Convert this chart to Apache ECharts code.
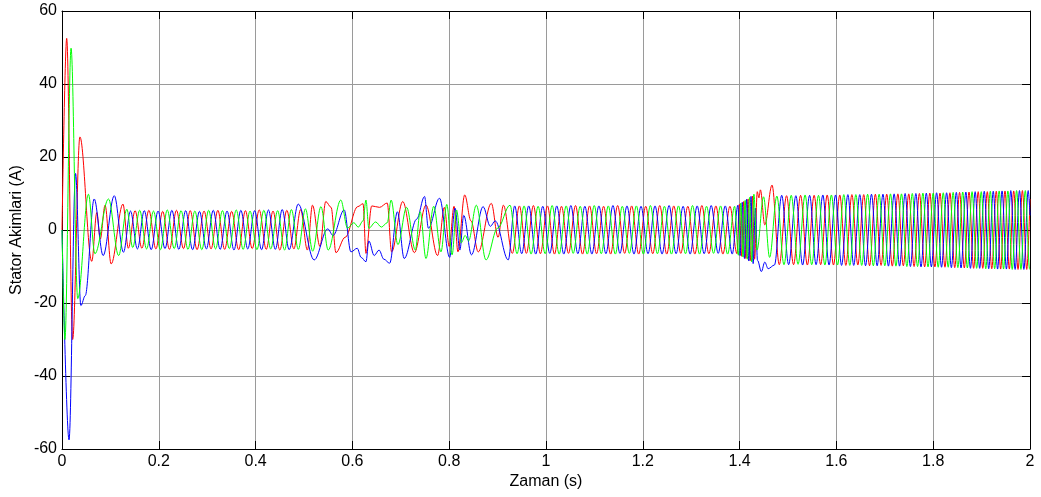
<!DOCTYPE html>
<html>
<head>
<meta charset="utf-8">
<title>Stator Akimlari</title>
<script src="https://cdn.jsdelivr.net/npm/echarts@6.0.0/dist/echarts.min.js"></script>
<style>
  html, body { margin: 0; padding: 0; background: #fff; }
  #chart { width: 1041px; height: 497px; }
</style>
</head>
<body>
<div id="chart"></div>
<script>
// Axis ranges and tick spacing
const xRange = [0, 2];
const xStep = 0.2;
const yRange = [-60, 60];
const yStep = 20;

const xTitle = 'Zaman (s)';
const yTitle = 'Stator Akimlari (A)';

// Phase currents as [time (s), current (A)] at the turning points of each wave
const phaseA = [
  [0, 0], [0.0097, 52.5], [0.022, -30], [0.037, 25.5], [0.0615, -8.6], [0.072, 4.8], [0.079, -2.5], [0.089, 6.8],
  [0.1015, -9.3], [0.126, 7.1], [0.137, -5.0],
  [0.151, 5.3], [0.165, -5.0], [0.1795, 5.4], [0.194, -5.2], [0.208, 5.1], [0.222, -5.3], [0.2365, 5.4], [0.251, -5.1],
  [0.265, 5.3], [0.279, -5.4], [0.2935, 5.2], [0.308, -5.2], [0.322, 5.4], [0.336, -5.3], [0.3505, 5.1], [0.365, -5.4],
  [0.379, 5.3], [0.393, -5.1], [0.4075, 5.5], [0.422, -5.3], [0.436, 5.2], [0.45, -5.5], [0.4645, 5.4], [0.479, -5.2],
  [0.493, 5.6],
  [0.507, -5.5], [0.5175, 6.8], [0.533, -4.5], [0.545, 7.8], [0.556, 6.2], [0.566, -6.2], [0.585, -2.0], [0.611, 6.4],
  [0.622, 7.2], [0.628, -6.4], [0.64, 6.6], [0.656, 6.2], [0.672, 7.4], [0.681, -6.0], [0.704, 7.8], [0.728, -6.2],
  [0.752, 6.8], [0.776, -7.0], [0.79, 6.2], [0.8, -4.5], [0.81, 6.5], [0.818, -6.0], [0.832, 9.6], [0.845, 2.5],
  [0.86, -6.0], [0.887, 7.3], [0.901, -2.0], [0.912, 6.8], [0.9305, -6.4],
  [0.945, 6.6], [0.9595, -6.4], [0.974, 6.7], [0.9885, -6.5], [1.003, 6.6], [1.0175, -6.6], [1.032, 6.5], [1.0465, -6.4],
  [1.061, 6.7], [1.0755, -6.6], [1.09, 6.6], [1.1045, -6.5], [1.119, 6.5], [1.1335, -6.6], [1.148, 6.7], [1.1625, -6.4],
  [1.177, 6.6], [1.1915, -6.6], [1.206, 6.5], [1.2205, -6.5], [1.235, 6.7], [1.2495, -6.6], [1.264, 6.6], [1.2785, -6.4],
  [1.293, 6.5], [1.3075, -6.6], [1.322, 6.7], [1.3365, -6.5], [1.351, 6.6], [1.3655, -6.6], [1.38, 6.5], [1.3945, -6.5],
  [1.3995, 7.0], [1.404, -7.2], [1.4085, 7.8], [1.413, -7.8], [1.4175, 8.5], [1.422, -8.4], [1.4265, 9.3], [1.431, -8.0],
  [1.4365, 10.5], [1.44, 8.8], [1.443, 11.0], [1.452, 1.4], [1.467, 12.3],
  [1.482, -9.5], [1.497, 9.4], [1.5115, -9.5], [1.526, 9.5], [1.54, -9.6], [1.554, 9.5], [1.5675, -9.5], [1.581, 9.6],
  [1.594, -9.6], [1.607, 9.6], [1.6195, -9.7], [1.632, 9.7], [1.6443, -9.6], [1.6565, 9.7], [1.6685, -9.8], [1.6805, 9.8],
  [1.6923, -9.7], [1.704, 9.8], [1.7155, -9.9], [1.727, 9.9], [1.7383, -9.8], [1.7495, 9.9], [1.7605, -10.0],
  [1.7715, 10.0], [1.7823, -10.1], [1.793, 10.1], [1.8035, -10.1], [1.814, 10.1], [1.8243, -10.2], [1.8345, 10.2],
  [1.8445, -10.3], [1.8545, 10.3], [1.8643, -10.4], [1.874, 10.4], [1.8835, -10.5], [1.893, 10.5], [1.9024, -10.5],
  [1.9118, 10.5], [1.921, -10.6], [1.9303, 10.6], [1.9393, -10.7], [1.9483, 10.7], [1.9573, -10.7], [1.9663, 10.7],
  [1.9753, -10.8], [1.9843, 10.8], [1.9933, -10.8], [2.0, 8.5]
];

const phaseB = [
  [0, 0], [0.006, -30], [0.0187, 49.8], [0.0325, -18.8], [0.0546, 9.8], [0.068, -6.5], [0.096, 8.5], [0.117, -7.0],
  [0.134, 5.7], [0.146, -4.8],
  [0.1605, 5.4], [0.1748, -5.2], [0.189, 5.2], [0.2033, -5.4], [0.2175, 5.5], [0.2318, -5.1], [0.246, 5.3], [0.2603, -5.3],
  [0.2745, 5.2], [0.2888, -5.4], [0.303, 5.4], [0.3173, -5.2], [0.3315, 5.3], [0.3458, -5.1], [0.36, 5.5], [0.3743, -5.3],
  [0.3885, 5.2], [0.4028, -5.4], [0.417, 5.4], [0.4313, -5.2], [0.4455, 5.3], [0.4598, -5.5], [0.474, 5.6], [0.4883, -5.3],
  [0.503, 5.8], [0.518, -5.8], [0.535, 6.4], [0.55, -5.5], [0.576, 8.2], [0.59, 0.5], [0.603, 2.0], [0.612, 0.8],
  [0.622, 2.5], [0.628, 8.2], [0.634, 0.5], [0.648, 2.2], [0.66, 0.8], [0.672, 2.0], [0.68, 8.2], [0.694, -4.0],
  [0.712, 6.2], [0.73, -5.5], [0.74, 5.0], [0.752, -7.8], [0.768, 6.5], [0.783, -6.0], [0.795, 7.0], [0.806, -6.8],
  [0.815, 5.5], [0.825, -3.5], [0.833, -1.5], [0.84, -3.0], [0.856, 6.8], [0.876, -8.2], [0.9, 0.5], [0.9257, 6.8],
  [0.9402, -6.5], [0.9547, 6.6], [0.9692, -6.6], [0.9837, 6.5], [0.9982, -6.5], [1.0127, 6.7], [1.0272, -6.6], [1.0417, 6.6],
  [1.0562, -6.4], [1.0707, 6.5], [1.0852, -6.6], [1.0997, 6.7], [1.1142, -6.5], [1.1287, 6.6], [1.1432, -6.6], [1.1577, 6.5],
  [1.1722, -6.4], [1.1867, 6.6], [1.2012, -6.6], [1.2157, 6.7], [1.2302, -6.5], [1.2447, 6.5], [1.2592, -6.6], [1.2737, 6.6],
  [1.2882, -6.5], [1.3027, 6.7], [1.3172, -6.6], [1.3317, 6.5], [1.3462, -6.4], [1.3607, 6.6], [1.3752, -6.6], [1.3897, 6.5],
  [1.3975, -6.9], [1.4025, 7.4], [1.407, -7.4], [1.4115, 8.1], [1.416, -8.0], [1.4205, 8.9], [1.425, -8.7], [1.4295, 9.8],
  [1.436, -5.5], [1.4495, 9.1], [1.462, -7.5],
  [1.477, 9.3], [1.4917, -9.5], [1.5067, 9.5], [1.5208, -9.4], [1.5353, 9.6], [1.549, -9.5], [1.563, 9.5], [1.5762, -9.6],
  [1.5897, 9.6], [1.6023, -9.6], [1.6153, 9.7], [1.6277, -9.7], [1.6402, 9.7], [1.6523, -9.7], [1.6645, 9.8],
  [1.6763, -9.8], [1.6883, 9.8], [1.7, -9.8], [1.7117, 9.9], [1.723, -9.9], [1.7345, 9.9], [1.7456, -10.0],
  [1.7568, 10.0], [1.7677, -10.0], [1.7787, 10.1], [1.7893, -10.1], [1.8, 10.1], [1.8103, -10.2], [1.8208, 10.2],
  [1.831, -10.2], [1.8412, 10.3], [1.851, -10.3], [1.861, 10.4], [1.8706, -10.4], [1.8803, 10.5], [1.8898, -10.5],
  [1.8993, 10.5], [1.9086, -10.6], [1.918, 10.6], [1.927, -10.6], [1.9363, 10.7], [1.9453, -10.7], [1.9543, 10.7],
  [1.9633, -10.8], [1.9723, 10.8], [1.9813, -10.8], [1.9903, 10.8], [1.9993, -10.8], [2.0, -10.7]
];

const phaseC = [
  [0, 0], [0.0145, -57.5], [0.028, 15.5], [0.039, -20.7], [0.048, -18.0], [0.0665, 8.5], [0.085, -7.0], [0.108, 9.4],
  [0.127, -6.1], [0.1415, 5.2],
  [0.1558, -5.2], [0.17, 5.3], [0.1843, -5.4], [0.1985, 5.2], [0.2128, -5.1], [0.227, 5.4], [0.2413, -5.3], [0.2555, 5.3],
  [0.2698, -5.4], [0.284, 5.1], [0.2983, -5.2], [0.3125, 5.4], [0.3268, -5.3], [0.341, 5.2], [0.3553, -5.5], [0.3695, 5.4],
  [0.3838, -5.2], [0.398, 5.3], [0.4123, -5.4], [0.4265, 5.5], [0.4408, -5.3], [0.455, 5.6], [0.4693, -5.4], [0.488, 7.1],
  [0.521, -8.2], [0.549, 0.3], [0.56, -1.5], [0.583, 5.5], [0.597, -6.0], [0.61, -5.0], [0.618, -7.5], [0.628, -8.7],
  [0.634, -3.0], [0.645, -7.0], [0.655, -5.5], [0.665, -8.0], [0.677, -9.1], [0.693, 5.0], [0.707, -7.8], [0.733, 3.0],
  [0.749, 9.2], [0.757, 0.5], [0.78, 8.7], [0.801, -7.5], [0.812, 6.0], [0.822, -5.5], [0.83, 4.0], [0.846, -6.8],
  [0.87, 6.4], [0.885, 1.0], [0.895, 2.5], [0.922, -8.2], [0.9353, 6.6],
  [0.9498, -6.5], [0.9643, 6.6], [0.9788, -6.6], [0.9933, 6.5], [1.0078, -6.4], [1.0223, 6.6], [1.0368, -6.6], [1.0513, 6.7],
  [1.0658, -6.5], [1.0803, 6.5], [1.0948, -6.6], [1.1093, 6.6], [1.1238, -6.5], [1.1383, 6.7], [1.1528, -6.4], [1.1673, 6.6],
  [1.1818, -6.6], [1.1963, 6.5], [1.2108, -6.5], [1.2253, 6.6], [1.2398, -6.6], [1.2543, 6.7], [1.2688, -6.5], [1.2833, 6.5],
  [1.2978, -6.6], [1.3123, 6.6], [1.3268, -6.5], [1.3413, 6.7], [1.3558, -6.4], [1.3703, 6.6], [1.3848, -6.6], [1.3965, 6.8],
  [1.401, -7.0], [1.4055, 7.6], [1.41, -7.8], [1.4145, 8.4], [1.419, -8.5], [1.4235, 9.2], [1.428, -9.2], [1.4325, 6.0],
  [1.437, -8.3], [1.445, -11.4], [1.452, -8.8], [1.459, -10.6], [1.472, -9.6],
  [1.487, 9.5], [1.5013, -9.5], [1.5163, 9.4], [1.5302, -9.6], [1.5447, 9.5], [1.558, -9.5], [1.572, 9.6], [1.5848, -9.6],
  [1.5983, 9.6], [1.6107, -9.7], [1.6237, 9.7], [1.6358, -9.7], [1.6483, 9.7], [1.6602, -9.8], [1.6725, 9.8],
  [1.6842, -9.8], [1.6962, 9.8], [1.7075, -9.9], [1.7193, 9.9], [1.7305, -9.9], [1.742, 10.0], [1.7529, -10.0],
  [1.7642, 10.0], [1.7748, -10.1], [1.7858, 10.1], [1.7962, -10.1], [1.807, 10.2], [1.8172, -10.2], [1.8277, 10.2],
  [1.8375, -10.3], [1.8478, 10.3], [1.8575, -10.4], [1.8675, 10.4], [1.8769, -10.5], [1.8867, 10.5], [1.896, -10.5],
  [1.9055, 10.6], [1.9147, -10.6], [1.9241, 10.6], [1.933, -10.7], [1.9423, 10.7], [1.9513, -10.7], [1.9603, 10.8],
  [1.9693, -10.8], [1.9783, 10.8], [1.9873, -10.8], [1.9963, 10.8], [2.0, 4.0]
];

const phaseColors = { A: '#ff0000', B: '#00ff00', C: '#0000ff' };
const textFont = 'Liberation Sans, Arial, sans-serif';

const chart = echarts.init(document.getElementById('chart'), null, { renderer: 'canvas' });

const tickStyle = { inside: true, length: 8, lineStyle: { color: '#000', width: 1 } };
const boxLine = { show: true, onZero: false, lineStyle: { color: '#000', width: 1 } };
const gridLine = { show: true, lineStyle: { color: '#9a9a9a', width: 1, type: 'solid' } };

function waveSeries(name, data, color) {
  return {
    name: name,
    type: 'line',
    data: data,
    xAxisIndex: 0,
    yAxisIndex: 0,
    showSymbol: false,
    symbol: 'none',
    smooth: 0.35,
    smoothMonotone: 'x',
    lineStyle: { color: color, width: 1 },
    itemStyle: { color: color },
    emphasis: { disabled: true },
    silent: true
  };
}

chart.setOption({
  animation: false,
  backgroundColor: '#fff',
  grid: { left: 62, right: 11, top: 11, bottom: 48, containLabel: false },
  xAxis: [
    {
      type: 'value', min: xRange[0], max: xRange[1], interval: xStep,
      axisLine: boxLine, axisTick: tickStyle, splitLine: gridLine,
      axisLabel: {
        color: '#000', fontSize: 16, fontFamily: textFont, margin: 5,
        formatter: v => String(+v.toFixed(1))
      }
    },
    {
      type: 'value', position: 'top', min: xRange[0], max: xRange[1], interval: xStep,
      axisLine: boxLine, axisTick: tickStyle, splitLine: { show: false }, axisLabel: { show: false }
    }
  ],
  yAxis: [
    {
      type: 'value', min: yRange[0], max: yRange[1], interval: yStep,
      axisLine: boxLine, axisTick: tickStyle, splitLine: gridLine,
      axisLabel: { color: '#000', fontSize: 16, fontFamily: textFont, margin: 5 }
    },
    {
      type: 'value', position: 'right', min: yRange[0], max: yRange[1], interval: yStep,
      axisLine: boxLine, axisTick: tickStyle, splitLine: { show: false }, axisLabel: { show: false }
    }
  ],
  graphic: [
    {
      type: 'text', x: 546, y: 482,
      style: { text: xTitle, fill: '#000', font: '16px ' + textFont, textAlign: 'center', textVerticalAlign: 'middle' }
    },
    {
      type: 'text', x: 17, y: 230, rotation: Math.PI / 2,
      style: { text: yTitle, fill: '#000', font: '16px ' + textFont, textAlign: 'center', textVerticalAlign: 'middle' }
    }
  ],
  series: [
    waveSeries('Ia', phaseA, phaseColors.A),
    waveSeries('Ic', phaseC, phaseColors.C),
    waveSeries('Ib', phaseB, phaseColors.B)
  ]
});
</script>
</body>
</html>
